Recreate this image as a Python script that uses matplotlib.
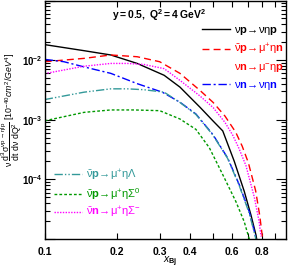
import math
import matplotlib
matplotlib.use("Agg")
import matplotlib.pyplot as plt
from matplotlib.lines import Line2D
from matplotlib.ticker import FixedLocator, NullFormatter, FixedFormatter, LogLocator

plt.rcParams['font.family'] = ['Liberation Sans', 'DejaVu Sans']
plt.rcParams['mathtext.fontset'] = 'custom'
plt.rcParams['mathtext.rm'] = 'Liberation Sans'
plt.rcParams['mathtext.it'] = 'Liberation Sans:italic'
plt.rcParams['mathtext.bf'] = 'Liberation Sans:bold'
plt.rcParams['mathtext.default'] = 'regular'

# ---- data ----
x_vp = [0.1, 0.1456, 0.188, 0.242, 0.313, 0.364, 0.441, 0.50, 0.548, 0.612, 0.673, 0.718, 0.753, 0.765]
y_vp = [0.0182, 0.0144, 0.0122, 0.0088, 0.00557, 0.00353, 0.00162, 9.5e-4, 6.5e-4, 2.0e-4, 6.3e-5, 2.5e-5, 1.16e-5, 8e-6]

x_abp = [0.1, 0.1456, 0.188, 0.242, 0.30, 0.364, 0.441, 0.50, 0.56, 0.62, 0.66, 0.70, 0.75, 0.78, 0.80]
y_abp = [0.0094, 0.0107, 0.0122, 0.0114, 0.0094, 0.006, 0.0031, 0.00195, 0.00115, 6.2e-4, 3.6e-4, 1.9e-4, 6.5e-5, 2.5e-5, 1.1e-5]

x_vn = [0.1, 0.1202, 0.1456, 0.188, 0.242, 0.3076, 0.364, 0.424, 0.498, 0.574, 0.642, 0.706, 0.748, 0.758]
y_vn = [0.0103, 0.0094, 0.0077, 0.006, 0.00403, 0.0029, 0.00197, 0.00125, 5.7e-4, 2.3e-4, 8.1e-5, 2.87e-5, 1.16e-5, 9e-6]

x_lam = [0.1, 0.1456, 0.188, 0.220, 0.258, 0.313, 0.364, 0.424, 0.498, 0.574, 0.642, 0.706, 0.748, 0.758]
y_lam = [0.00218, 0.0029, 0.0033, 0.0033, 0.00319, 0.0029, 0.00195, 0.00123, 5.6e-4, 2.25e-4, 7.8e-5, 2.7e-5, 1.1e-5, 8.5e-6]

x_sig0 = [0.1, 0.1456, 0.188, 0.235, 0.30, 0.364, 0.424, 0.482, 0.548, 0.622, 0.673, 0.706, 0.715]
y_sig0 = [9.6e-4, 0.00133, 0.00146, 0.00146, 0.00142, 0.00103, 6.9e-4, 3.4e-4, 1.2e-4, 4.2e-5, 1.94e-5, 1.0e-5, 8e-6]

x_sigm = [0.1, 0.1456, 0.188, 0.220, 0.258, 0.313, 0.364, 0.441, 0.50, 0.56, 0.603, 0.64, 0.684, 0.741, 0.775, 0.79]
y_sigm = [0.00594, 0.0079, 0.0088, 0.0088, 0.00846, 0.0072, 0.00458, 0.0025, 0.0016, 9e-4, 5.5e-4, 3.3e-4, 1.7e-4, 5e-5, 2e-5, 1.1e-5]

x_ticks = [0.1, 0.2, 0.3, 0.4, 0.5, 0.6, 0.7, 0.8, 0.9]
x_ticklabels = ['0.1', '0.2', '0.3', '0.4', '', '0.6', '', '0.8', '']

lab_vp = r'$\nu\mathbf{p}\!\rightarrow\!\nu\eta\mathbf{p}$'
lab_abp = r'$\bar{\nu}\mathbf{p}\!\rightarrow\!\mu^{+}\eta\mathbf{n}$'
lab_vn_cc = r'$\nu\mathbf{n}\!\rightarrow\!\mu^{-}\eta\mathbf{p}$'
lab_vn = r'$\nu\mathbf{n}\!\rightarrow\!\nu\eta\mathbf{n}$'
lab_lam = r'$\bar{\nu}\mathbf{p}\!\rightarrow\!\mu^{+}\eta\Lambda$'
lab_sig0 = r'$\bar{\nu}\mathbf{p}\!\rightarrow\!\mu^{+}\eta\Sigma^{0}$'
lab_sigm = r'$\bar{\nu}\mathbf{n}\!\rightarrow\!\mu^{+}\eta\Sigma^{-}$'

c_teal = '#339999'
c_green = '#009900'

W, H = 296, 270
fig = plt.figure(figsize=(W / 100, H / 100), dpi=100)
ax = fig.add_axes([44.7 / W, 1 - 239 / H, 241 / W, 238.5 / H])

h_vp, = ax.plot(x_vp, y_vp, color='black', lw=1.0, ls='-')
h_abp, = ax.plot(x_abp, y_abp, color='red', lw=1.0, ls=(0, (5, 3)))
h_vn, = ax.plot(x_vn, y_vn, color='blue', lw=1.0, ls=(0, (6, 2, 1.5, 2)))
h_lam, = ax.plot(x_lam, y_lam, color=c_teal, lw=1.0, ls=(0, (6, 1.5, 1, 1.5, 1, 1.5)))
h_sig0, = ax.plot(x_sig0, y_sig0, color=c_green, lw=1.0, ls=(0, (2, 1.5)))
h_sigm, = ax.plot(x_sigm, y_sigm, color='magenta', lw=1.0, ls=(0, (1, 1)))

ax.set_xscale('log')
ax.set_yscale('log')
ax.set_xlim(0.1, 1.0)
ax.set_ylim(1e-5, 1e-1)

ax.xaxis.set_major_locator(FixedLocator(x_ticks))
ax.xaxis.set_major_formatter(FixedFormatter(x_ticklabels))
ax.xaxis.set_minor_locator(FixedLocator([]))
ax.yaxis.set_major_locator(LogLocator(base=10, numticks=10))
ax.yaxis.set_minor_locator(LogLocator(base=10, subs=[2, 3, 4, 5, 6, 7, 8, 9], numticks=20))
ax.yaxis.set_minor_formatter(NullFormatter())

def yfmt(v, pos):
    e = int(round(math.log10(v)))
    if e in (-4, -3, -2):
        return r'$\mathbf{10^{%d}}$' % e
    return ''
ax.yaxis.set_major_formatter(plt.FuncFormatter(yfmt))

ax.tick_params(which='both', direction='in', top=True, right=True, width=0.8)
ax.tick_params(which='major', axis='y', length=7, labelsize=7, pad=1.5)
ax.tick_params(which='minor', axis='y', length=3.5)
ax.tick_params(which='major', axis='x', length=4, labelsize=7.5, pad=6)
for lbl in ax.get_xticklabels():
    lbl.set_fontweight('bold')
for s in ax.spines.values():
    s.set_linewidth(1.0)

# top legend
blank = Line2D([], [], color='none')
leg1 = ax.legend([h_vp, h_abp, blank, h_vn], [lab_vp, lab_abp, lab_vn_cc, lab_vn],
                 loc='upper right', bbox_to_anchor=(0.995, 0.897), frameon=False,
                 fontsize=8, handlelength=2.5, handletextpad=0.4, labelspacing=0.42,
                 borderpad=0, borderaxespad=0,
                 labelcolor=['black', 'red', 'red', 'blue'])
ax.add_artist(leg1)
leg2 = ax.legend([h_lam, h_sig0, h_sigm], [lab_lam, lab_sig0, lab_sigm],
                 loc='upper left', bbox_to_anchor=(0.04, 0.3), frameon=False,
                 fontsize=8, handlelength=2.5, handletextpad=0.35, labelspacing=0.3,
                 borderpad=0, borderaxespad=0,
                 labelcolor=[c_teal, c_green, 'magenta'])

fig.text(159 / W, 1 - 15 / H, r'$\mathbf{y=0.5,\ Q^{2}=4\ GeV^{2}}$', ha='center', va='center', fontsize=7.5)
fig.text(170 / W, 1 - 262 / H, r'$\mathit{x}_{\mathbf{Bj}}$', ha='center', va='center', fontsize=7.5)
fig.text(11.5 / W, 1 - 110 / H,
         r'$\nu\ \dfrac{d^{3}\sigma^{\nu p\to \eta l p}}{dt\ d\nu\ dQ^{2}}\ [\mathit{10^{-40}cm^{2}/GeV^{4}}]$',
         rotation=90, ha='center', va='center', fontsize=6.3)

fig.savefig('out.png', dpi=100)
